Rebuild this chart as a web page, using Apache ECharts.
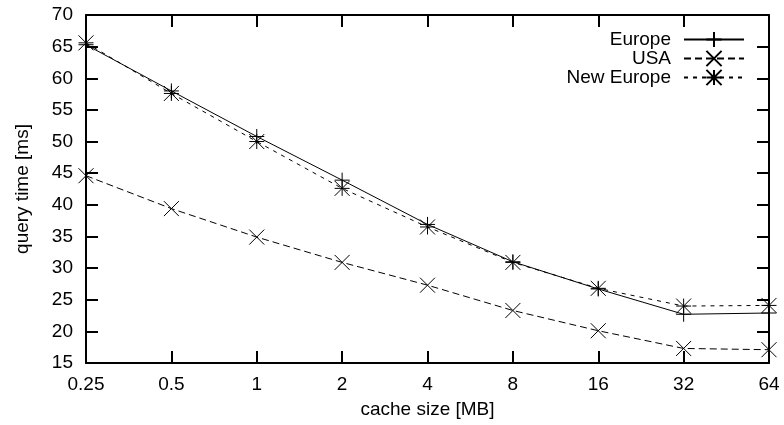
<!DOCTYPE html>
<html>
<head>
<meta charset="utf-8">
<script src="https://cdn.jsdelivr.net/npm/echarts@6/dist/echarts.min.js"></script>
<style>
  html, body { margin: 0; padding: 0; background: #fff; }
  #chart { width: 784px; height: 425px; }
</style>
</head>
<body>
<div id="chart"></div>
<script>
// cache sizes in MB (log2 spaced, drawn as evenly spaced categories)
const cacheSizes = ['0.25', '0.5', '1', '2', '4', '8', '16', '32', '64'];

// query time in ms
const europe    = [65.3, 58.0, 50.8, 43.9, 36.9, 31.0, 26.7, 22.7, 22.9];
const usa       = [44.6, 39.4, 34.9, 30.9, 27.3, 23.3, 20.1, 17.3, 17.1];
const newEurope = [65.6, 57.6, 50.0, 42.6, 36.5, 30.9, 26.8, 24.0, 24.1];

const FONT = 'Liberation Sans';

// gnuplot-like point types
const plusSym  = 'path://M0,5 L10,5 M5,0 L5,10';
const crossSym = 'path://M0,0 L10,10 M10,0 L0,10';
const starSym  = 'path://M0,5 L10,5 M5,0 L5,10 M0,0 L10,10 M10,0 L0,10';

const chart = echarts.init(document.getElementById('chart'));

const axisLine = { show: true, lineStyle: { color: '#000', width: 2 } };
const tick = { show: true, inside: true, length: 12, lineStyle: { color: '#000', width: 2 } };

function makeSeries(name, data, symbol, dash) {
  return {
    name: name,
    type: 'line',
    data: data,
    symbol: symbol,
    symbolSize: 15,
    showAllSymbol: true,
    animation: false,
    lineStyle: { color: '#000', width: 1, type: dash },
    itemStyle: { color: '#000', borderColor: '#000', borderWidth: 1 }
  };
}

const option = {
  animation: false,
  textStyle: { fontFamily: FONT },
  grid: { left: 86, right: 15, top: 15, bottom: 62 },
  legend: {
    orient: 'vertical',
    align: 'right',
    right: 39,
    top: 30,
    padding: 0,
    itemGap: 0,
    itemWidth: 60,
    itemHeight: 19,
    textStyle: { fontFamily: FONT, fontSize: 19, color: '#000', padding: [0, 8, 0, 0] },
    data: ['Europe', 'USA', 'New Europe']
  },
  xAxis: [{
    type: 'category',
    data: cacheSizes,
    boundaryGap: false,
    axisLine: axisLine,
    axisTick: tick,
    axisLabel: { color: '#000', fontSize: 19, fontFamily: FONT, margin: 12 },
    splitLine: { show: false },
    name: 'cache size [MB]',
    nameLocation: 'middle',
    nameGap: 37,
    nameTextStyle: { color: '#000', fontSize: 19, fontFamily: FONT }
  }, {
    type: 'category',
    data: cacheSizes,
    position: 'top',
    boundaryGap: false,
    axisLine: axisLine,
    axisTick: tick,
    axisLabel: { show: false },
    splitLine: { show: false }
  }],
  yAxis: [{
    type: 'value',
    min: 15,
    max: 70,
    interval: 5,
    axisLine: axisLine,
    axisTick: tick,
    axisLabel: { color: '#000', fontSize: 19, fontFamily: FONT, margin: 13 },
    splitLine: { show: false },
    name: 'query time [ms]',
    nameLocation: 'middle',
    nameGap: 54,
    nameTextStyle: { color: '#000', fontSize: 19, fontFamily: FONT }
  }, {
    type: 'value',
    position: 'right',
    min: 15,
    max: 70,
    interval: 5,
    axisLine: axisLine,
    axisTick: tick,
    axisLabel: { show: false },
    splitLine: { show: false }
  }],
  series: [
    makeSeries('Europe', europe, plusSym, 'solid'),
    makeSeries('USA', usa, crossSym, [7, 4]),
    makeSeries('New Europe', newEurope, starSym, [4, 5])
  ]
};

chart.setOption(option);
</script>
</body>
</html>
